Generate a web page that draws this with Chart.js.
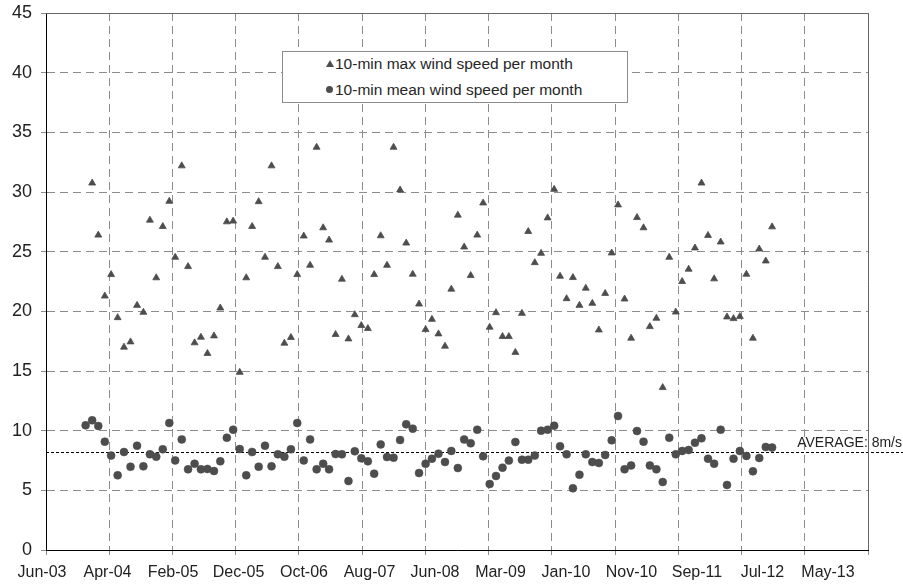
<!DOCTYPE html>
<html>
<head>
<meta charset="utf-8">
<title>Monthly wind speed</title>
<script src="https://cdn.jsdelivr.net/npm/chart.js@4.4.1/dist/chart.umd.min.js"></script>
<style>
    html, body { margin: 0; padding: 0; background: #fff; }
    #wrap { position: relative; width: 903px; height: 588px; }
    #legend {
        position: absolute; left: 282px; top: 51px; width: 344px; height: 50px;
        border: 1px solid #8c8c8c; background: #fff;
        font: 15.5px "Liberation Sans", Arial, sans-serif; color: #262626;
    }
    .row { position: absolute; left: 52px; height: 18px; line-height: 18px; white-space: nowrap; }
    .mark { position: absolute; }
    .tri { width: 0; height: 0; border-left: 4px solid transparent; border-right: 4px solid transparent; border-bottom: 7px solid #4d4d4d; }
    .dot { width: 7px; height: 7px; border-radius: 50%; background: #4d4d4d; }
</style>
</head>
<body>
<div id="wrap">
    <canvas id="windChart" width="903" height="588"></canvas>
    <div id="legend"></div>
</div>
<script>
// Months with a reading (first day of month)
const months = [
    '2004-01', '2004-02', '2004-03', '2004-04', '2004-05', '2004-06', '2004-07', '2004-08', '2004-09', '2004-10', '2004-11', '2004-12',
    '2005-01', '2005-02', '2005-03', '2005-04', '2005-05', '2005-06', '2005-07', '2005-08', '2005-09', '2005-10', '2005-11', '2005-12',
    '2006-01', '2006-02', '2006-03', '2006-04', '2006-05', '2006-06', '2006-07', '2006-08', '2006-09', '2006-10', '2006-11', '2006-12',
    '2007-01', '2007-02', '2007-03', '2007-04', '2007-05', '2007-06', '2007-07', '2007-08', '2007-09', '2007-10', '2007-11', '2007-12',
    '2008-01', '2008-02', '2008-03', '2008-04', '2008-05', '2008-06', '2008-07', '2008-08', '2008-09', '2008-10', '2008-11', '2008-12',
    '2009-01', '2009-02', '2009-03', '2009-04', '2009-05', '2009-06', '2009-07', '2009-08', '2009-09', '2009-10', '2009-11', '2009-12',
    '2010-01', '2010-02', '2010-03', '2010-04', '2010-05', '2010-06', '2010-07', '2010-08', '2010-09', '2010-10', '2010-11', '2010-12',
    '2011-01', '2011-02', '2011-03', '2011-04', '2011-05', '2011-06', '2011-07', '2011-08', '2011-09', '2011-10', '2011-11', '2011-12',
    '2012-01', '2012-02', '2012-03', '2012-04', '2012-05', '2012-06', '2012-07', '2012-08', '2012-09', '2012-10', '2012-11', '2012-12'
];

// 10-min max wind speed per month (m/s), no value for the first month
const maxSpeed = [
    null, 30.75, 26.39, 21.28, 23.08, 19.47, 17.0, 17.44, 20.5, 19.92, 27.64, 22.81,
    27.11, 29.22, 24.53, 32.19, 23.75, 17.36, 17.83, 16.47, 17.94, 20.28, 27.5, 27.56,
    14.89, 22.81, 27.11, 29.19, 24.53, 32.19, 23.75, 17.33, 17.81, 23.08, 26.31, 23.86,
    33.75, 27.0, 25.97, 18.06, 22.69, 17.69, 19.72, 18.81, 18.56, 23.08, 26.33, 23.86,
    33.75, 30.17, 25.72, 23.11, 20.61, 18.47, 19.33, 18.11, 17.08, 21.86, 28.06, 25.39,
    23.0, 26.39, 29.08, 18.67, 19.89, 17.89, 17.89, 16.56, 19.83, 26.69, 24.08, 24.86,
    27.83, 30.22, 22.94, 21.06, 22.83, 20.5, 21.94, 20.67, 18.44, 21.5, 24.89, 28.92,
    21.03, 17.75, 27.86, 27.0, 18.72, 19.42, 13.61, 24.53, 19.94, 22.5, 23.53, 25.31,
    30.75, 26.36, 22.72, 25.81, 19.53, 19.39, 19.56, 23.11, 17.75, 25.22, 24.22, 27.08
];

// 10-min mean wind speed per month (m/s)
const meanSpeed = [
    10.45, 10.87, 10.39, 9.08, 7.91, 6.26, 8.21, 6.98, 8.74, 7.01, 8.02, 7.82,
    8.44, 10.64, 7.51, 9.27, 6.76, 7.23, 6.76, 6.79, 6.62, 7.43, 9.41, 10.08,
    8.46, 6.26, 8.21, 6.98, 8.74, 7.01, 8.02, 7.82, 8.44, 10.64, 7.51, 9.27,
    6.76, 7.23, 6.76, 8.04, 8.02, 5.78, 8.27, 7.68, 7.43, 6.40, 8.85, 7.79,
    7.74, 9.22, 10.53, 10.17, 6.45, 7.23, 7.65, 8.07, 7.37, 8.30, 6.87, 9.27,
    8.94, 10.08, 7.85, 5.53, 6.20, 6.90, 7.49, 9.05, 7.57, 7.57, 7.91, 10.0,
    10.08, 10.42, 8.69, 8.02, 5.17, 6.31, 8.02, 7.37, 7.29, 7.96, 9.19, 11.23,
    6.76, 7.09, 9.97, 9.08, 7.09, 6.76, 5.70, 9.41, 8.02, 8.30, 8.38, 8.99,
    9.36, 7.65, 7.23, 10.08, 5.45, 7.65, 8.30, 7.88, 6.59, 7.71, 8.63, 8.58
];

const seriesNames = ['10-min max wind speed per month', '10-min mean wind speed per month'];
const tickLabels = ['Jun-03', 'Apr-04', 'Feb-05', 'Dec-05', 'Oct-06', 'Aug-07', 'Jun-08',
    'Mar-09', 'Jan-10', 'Nov-10', 'Sep-11', 'Jul-12', 'May-13'];
const yTicks = [0, 5, 10, 15, 20, 25, 30, 35, 40, 45];
const averageSpeed = 8.23;
const averageText = 'AVERAGE: 8m/s';

// Date axis runs in days from its start, one major unit = 300 days
const AXIS_START = Date.UTC(2003, 5, 27);
const DAY = 864e5;
const MAJOR = 300;

const FONT = '"Liberation Sans", Arial, sans-serif';
const MARK = '#4d4d4d';
const GRID = '#8c8c8c';
const TEXT = '#222';

const toDays = (m) => {
    const [y, mo] = m.split('-').map(Number);
    return (Date.UTC(y, mo - 1, 1) - AXIS_START) / DAY;
};
const toPoints = (values) => months
    .map((m, i) => ({ x: toDays(m), y: values[i] }))
    .filter(p => p.y !== null);

// Plot frame (top/right edges) and the dashed average line with its note
const plotFrame = {
    id: 'plotFrame',
    beforeDatasetsDraw: (chart) => {
        const { ctx, chartArea: a, scales } = chart;
        const yPx = Math.round(scales.y.getPixelForValue(averageSpeed)) + 0.5;
        ctx.save();
        ctx.strokeStyle = '#000';
        ctx.lineWidth = 1;
        ctx.setLineDash([3, 2]);
        ctx.beginPath();
        ctx.moveTo(a.left, yPx);
        ctx.lineTo(chart.width, yPx);
        ctx.stroke();
        ctx.setLineDash([]);
        ctx.fillStyle = TEXT;
        ctx.font = '14px ' + FONT;
        ctx.textAlign = 'right';
        ctx.textBaseline = 'alphabetic';
        ctx.fillText(averageText, chart.width - 1, yPx - 6);
        ctx.restore();
    },
    afterDraw: (chart) => {
        const { ctx, chartArea: a } = chart;
        const top = Math.round(a.top) + 0.5;
        const right = Math.round(a.right) + 0.5;
        ctx.save();
        ctx.strokeStyle = '#666';
        ctx.lineWidth = 1;
        ctx.beginPath();
        ctx.moveTo(a.left, top);
        ctx.lineTo(right, top);
        ctx.lineTo(right, a.bottom);
        ctx.stroke();
        ctx.restore();
    }
};

const buildLegend = () => {
    const el = document.getElementById('legend');
    const marks = ['tri', 'dot'];
    el.innerHTML = seriesNames.map((name, i) => `
        <div class="mark ${marks[i]}" style="left:43px; top:${i ? 34 : 8}px"></div>
        <div class="row" style="top:${i ? 29 : 3}px">${name}</div>
    `).join('');
};

const initChart = () => {
    const ctx = document.getElementById('windChart');

    new Chart(ctx, {
        type: 'scatter',
        data: {
            datasets: [{
                label: seriesNames[0],
                data: toPoints(maxSpeed),
                pointStyle: 'triangle',
                pointRadius: 4,
                borderWidth: 0.8,
                backgroundColor: MARK,
                borderColor: MARK
            }, {
                label: seriesNames[1],
                data: toPoints(meanSpeed),
                pointStyle: 'circle',
                pointRadius: 4,
                borderWidth: 0.5,
                backgroundColor: MARK,
                borderColor: MARK
            }]
        },
        options: {
            responsive: false,
            animation: false,
            events: [],
            layout: { padding: { top: 13, right: 35, left: 0, bottom: 0 } },
            plugins: {
                legend: { display: false },
                tooltip: { enabled: false }
            },
            scales: {
                x: {
                    type: 'linear',
                    position: 'bottom',
                    min: 0,
                    max: MAJOR * tickLabels.length,
                    ticks: { stepSize: MAJOR, display: false },
                    grid: { color: GRID, tickColor: GRID, tickLength: 5, tickBorderDash: [] },
                    border: { color: '#000', dash: [8, 5] },
                    afterFit: (s) => { s.height = 5; s.paddingLeft = 0; s.paddingRight = 0; }
                },
                // label row of the date axis
                xLabels: {
                    type: 'linear',
                    position: 'bottom',
                    weight: 1,
                    min: 0,
                    max: 12.55,
                    ticks: {
                        stepSize: 1,
                        includeBounds: false,
                        autoSkip: false,
                        maxRotation: 0,
                        labelOffset: -4,
                        padding: 8,
                        color: TEXT,
                        font: { family: FONT, size: 16 },
                        callback: (v) => tickLabels[v] ?? ''
                    },
                    grid: { display: false, drawTicks: false },
                    border: { display: false },
                    afterFit: (s) => { s.height = 33; s.paddingLeft = 0; s.paddingRight = 0; }
                },
                y: {
                    min: yTicks[0],
                    max: yTicks[yTicks.length - 1],
                    ticks: {
                        stepSize: 5,
                        padding: 9,
                        color: TEXT,
                        font: { family: FONT, size: 18 }
                    },
                    grid: { color: GRID, tickColor: GRID, tickLength: 5, tickBorderDash: [] },
                    border: { color: '#000', dash: [8, 5] },
                    afterFit: (s) => { s.width = 46; s.paddingTop = 0; s.paddingBottom = 0; }
                }
            }
        },
        plugins: [plotFrame]
    });
};

document.addEventListener('DOMContentLoaded', () => {
    buildLegend();
    initChart();
});
</script>
</body>
</html>
